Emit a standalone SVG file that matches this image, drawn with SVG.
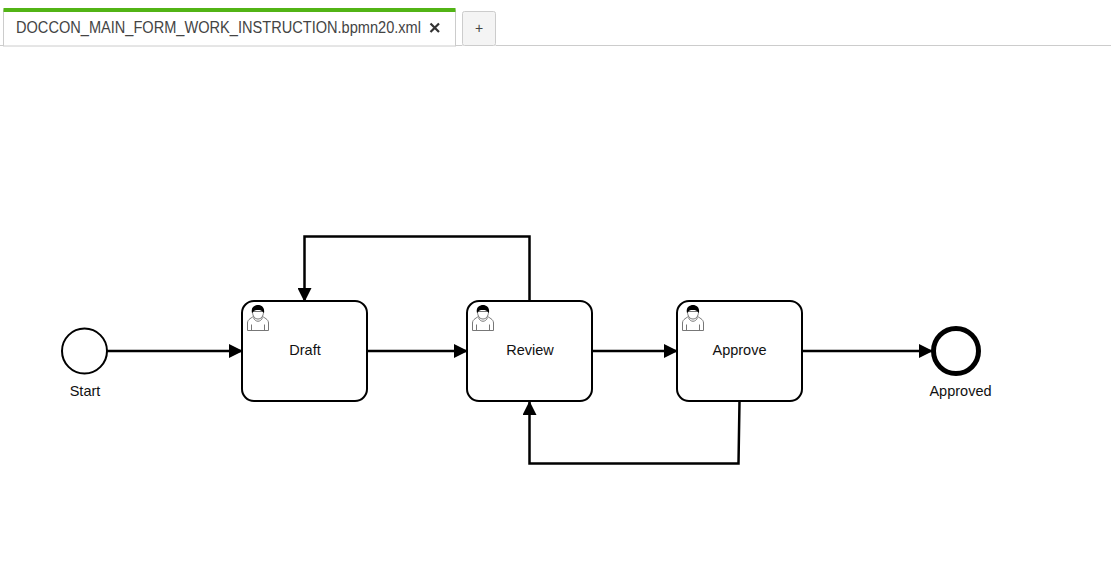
<svg xmlns="http://www.w3.org/2000/svg" xmlns:xlink="http://www.w3.org/1999/xlink" width="1111" height="584" viewBox="0 0 1111 584">
<style>
text{font-family:"Liberation Sans",Arial,sans-serif;fill:#000}
.task{fill:#fff;stroke:#000;stroke-width:2}
.lbl{font-size:14.5px;text-anchor:middle;fill:#111}
.flow{fill:none;stroke:#000;stroke-width:2.5}
.u{fill:#fff;stroke:#777;stroke-width:1}
</style>
<defs>
<marker id="arrow" markerUnits="userSpaceOnUse" markerWidth="14" markerHeight="14" refX="14" refY="7" orient="auto"><path d="M0 0L14 7L0 14Z" fill="#000"/></marker>
<g id="user">
<path class="u" d="M0.5 25.5V18C0.5 14 5 13 7.500 10.500H14.500C17 13 21.500 14 21.500 18V25.5Z"/>
<path class="u" d="M4.5 25.5V19.500M17.5 25.5V19.500M6.500 12.500C8 17.500 14 17.500 15.500 12.500"/>
<path class="u" d="M5.5 6.5C5.5 11.500 8 14 11 14C14 14 16.500 11.500 16.500 6.500Z"/>
<path d="M5 8C3.500 2 8 0 11 0C14 0 18 2 17 8C15 5.500 13 5 11 5C8 5 7 5.500 5 8Z" fill="#000"/>
</g>
</defs>
<rect width="1111" height="584" fill="#fff"/>
<g id="tabs">
<rect x="3.500" y="10" width="452" height="36" fill="#fff" stroke="#ccc"/>
<rect x="3.500" y="8" width="452" height="4" fill="#52b415"/>
<rect x="462.500" y="11.500" width="33" height="34" rx="2" fill="#f4f4f4" stroke="#ccc"/>
<path d="M0 45.500H3.500M455.500 45.500H462.500M495.500 45.500H1111" stroke="#ccc" fill="none"/>
<text x="16" y="33" font-size="16" style="fill:#444" textLength="405" lengthAdjust="spacingAndGlyphs">DOCCON_MAIN_FORM_WORK_INSTRUCTION.bpmn20.xml</text>
<path d="M430.500 23.500L439 32M439 23.500L430.500 32" stroke="#333" stroke-width="2.200" fill="none"/>
<text x="479" y="32.500" font-size="14" text-anchor="middle" style="fill:#444">+</text>
</g>
<g id="connectors">
<path class="flow" marker-end="url(#arrow)" d="M107 351H243"/>
<path class="flow" marker-end="url(#arrow)" d="M367 351H468"/>
<path class="flow" marker-end="url(#arrow)" d="M592 351H678"/>
<path class="flow" marker-end="url(#arrow)" d="M802 351H933"/>
<path class="flow" marker-end="url(#arrow)" d="M529.500 301V236.500H304.500V302"/>
<path class="flow" marker-end="url(#arrow)" d="M739.500 401L738.500 463.500H529.500V401"/>
</g>
<g id="start"><circle cx="84.500" cy="351" r="22.500" fill="#fff" stroke="#000" stroke-width="2"/><text class="lbl" x="85" y="396">Start</text></g>
<g id="draft"><rect class="task" x="242" y="301" width="125" height="100" rx="12"/><use xlink:href="#user" href="#user" x="247" y="305"/><text class="lbl" x="305" y="355">Draft</text></g>
<g id="review"><rect class="task" x="467" y="301" width="125" height="100" rx="12"/><use xlink:href="#user" href="#user" x="472" y="305"/><text class="lbl" x="530" y="355">Review</text></g>
<g id="approve"><rect class="task" x="677" y="301" width="125" height="100" rx="12"/><use xlink:href="#user" href="#user" x="682" y="305"/><text class="lbl" x="739.500" y="355">Approve</text></g>
<g id="approved"><circle cx="956" cy="351" r="22.500" fill="#fff" stroke="#000" stroke-width="5"/><text class="lbl" x="960.500" y="396">Approved</text></g>
</svg>
